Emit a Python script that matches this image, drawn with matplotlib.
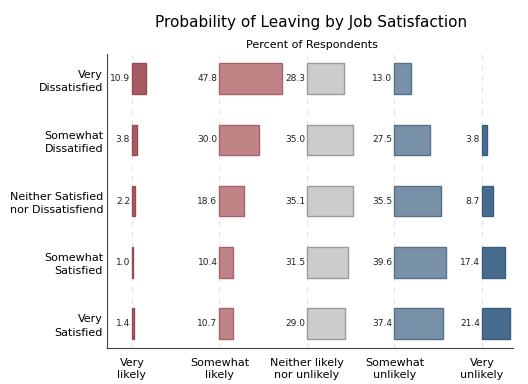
import numpy as np
import matplotlib.pyplot as plt

satisfaction = ['Very\nDissatisfied', 'Somewhat\nDissatified',
                'Neither Satisfied\nnor Dissatisfiend', 'Somewhat\nSatisfied',
                'Very\nSatisfied']
leaving = ['Very\nlikely', 'Somewhat\nlikely', 'Neither likely\nnor unlikely',
           'Somewhat\nunlikely', 'Very\nunlikely']

very_likely = [10.9, 3.8, 2.2, 1.0, 1.4]
somewhat_likely = [47.8, 30.0, 18.6, 10.4, 10.7]
neither = [28.3, 35.0, 35.1, 31.5, 29.0]
somewhat_unlikely = [13.0, 27.5, 35.5, 39.6, 37.4]
very_unlikely = [np.nan, 3.8, 8.7, 17.4, 21.4]

series = [very_likely, somewhat_likely, neither, somewhat_unlikely, very_unlikely]
colors = ['#a65b63', '#c08487', '#cccccc', '#7891a9', '#476b8c']
edges = ['#9a4a54', '#a8636a', '#9a9a9a', '#56708a', '#3c5e7e']

step = 67
fig = plt.figure(figsize=(5.28, 3.84), dpi=100)
ax = fig.add_axes([0.203, 0.094, 0.769, 0.765])

y = np.arange(len(satisfaction))
for i, vals in enumerate(series):
    x0 = i * step
    ax.axvline(x0, color='#e4e4e4', lw=0.8, ls=(0, (5, 5)), zorder=0)
    for j, v in enumerate(vals):
        if np.isnan(v):
            continue
        ax.barh(y[j], v, left=x0, height=0.5, color=colors[i],
                edgecolor=edges[i], linewidth=1)
        ax.text(x0 - 1.5, y[j], f'{v:.1f}', ha='right', va='center',
                fontsize=6.5, color='#222222')

ax.set_xlim(-19, 4 * step + 24)
ax.set_ylim(4.4, -0.4)
ax.set_yticks(y)
ax.set_yticklabels(satisfaction, fontsize=8, ha='right', multialignment='right',
                   linespacing=1.4)
ax.set_xticks([i * step for i in range(5)])
ax.set_xticklabels(leaving, fontsize=8, linespacing=1.3)
ax.tick_params(length=0, pad=7)
ax.tick_params(axis='y', pad=3)
for s in ['top', 'right']:
    ax.spines[s].set_visible(False)
for s in ['left', 'bottom']:
    ax.spines[s].set_color('#444444')

fig.text(0.59, 0.942, 'Probability of Leaving by Job Satisfaction', ha='center',
         va='center', fontsize=11)
fig.text(0.59, 0.883, 'Percent of Respondents', ha='center', va='center',
         fontsize=8)

plt.savefig('out.png')
